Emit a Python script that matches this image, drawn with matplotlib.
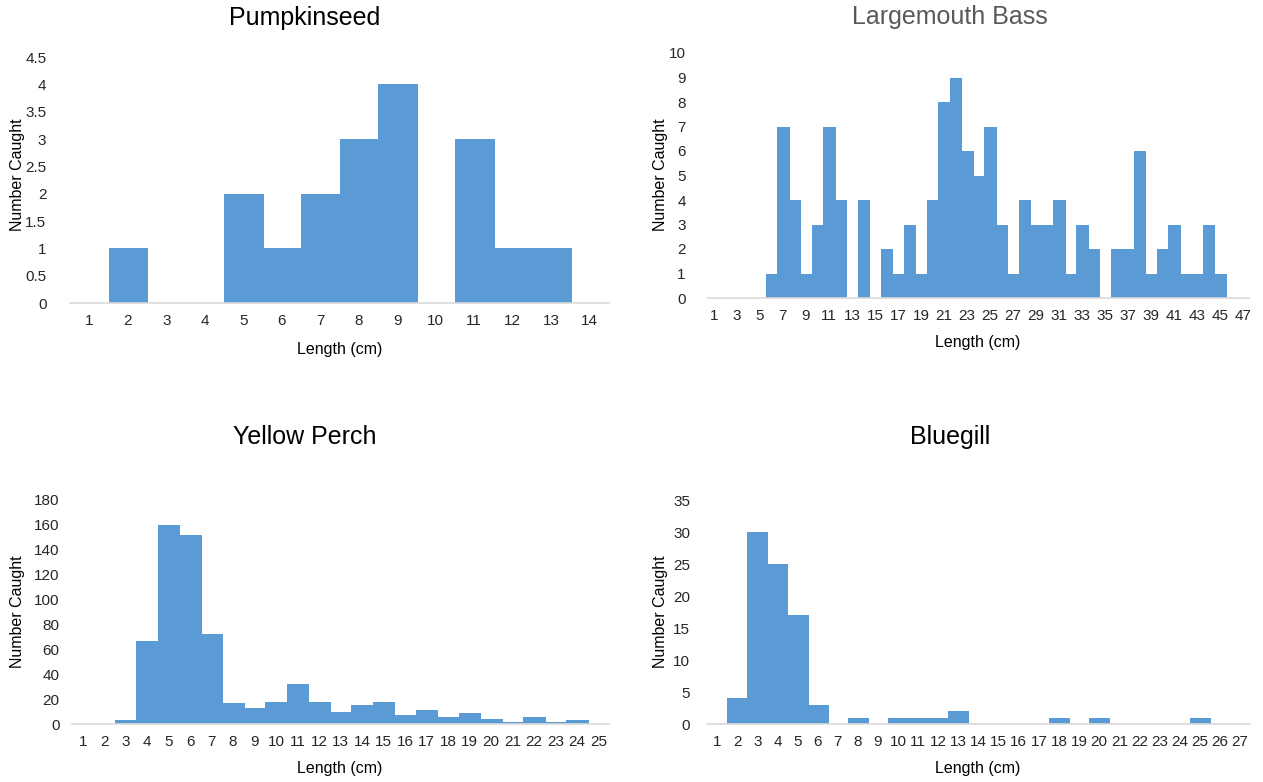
import numpy as np
import matplotlib
matplotlib.use("Agg")
import matplotlib.pyplot as plt

plt.rcParams['font.family'] = ['Liberation Sans', 'DejaVu Sans']

# counts per 1 cm length class
pumpkinseed = [0, 1, 0, 0, 2, 1, 2, 3, 4, 0, 3, 1, 1, 0]
largemouth = [0, 0, 0, 0, 0, 1, 7, 4, 1, 3, 7, 4, 0, 4, 0, 2, 1, 3, 1, 4,
              8, 9, 6, 5, 7, 3, 1, 4, 3, 3, 4, 1, 3, 2, 0, 2, 2, 6, 1, 2,
              3, 1, 1, 3, 1, 0, 0]
yellow_perch = [0, 0, 3, 67, 160, 152, 72, 17, 13, 18, 32, 18, 10, 15, 18,
                7, 11, 6, 9, 4, 2, 6, 2, 3, 0]
bluegill = [0, 4, 30, 25, 17, 3, 0, 1, 0, 1, 1, 1, 2, 0, 0, 0, 0, 1, 0, 1,
            0, 0, 0, 0, 1, 0, 0]

W, H = 1263, 782
BAR = '#5B9BD5'
GRID = '#D9D9D9'

fig = plt.figure(figsize=(W / 100, H / 100), dpi=100)


def panel(counts, box, ymax, ystep, title, title_xy, title_color, ylab_xy,
          xlab_xy, xstep=1, ypad=10):
    left, right, bottom, top = box
    ax = fig.add_axes([left / W, 1 - bottom / H, (right - left) / W,
                       (bottom - top) / H])
    x = np.arange(1, len(counts) + 1)
    ax.bar(x, counts, width=1.0, color=BAR, edgecolor=BAR, linewidth=0.4,
           antialiased=False)
    ax.set_xlim(0.5, len(counts) + 0.5)
    ax.set_ylim(0, ymax)
    ax.set_yticks(np.arange(0, ymax + ystep / 2, ystep))
    ax.yaxis.set_major_formatter(matplotlib.ticker.FuncFormatter(
        lambda v, p: f'{v:g}'))
    ax.set_xticks(x[::xstep])
    for s in ['top', 'right', 'left']:
        ax.spines[s].set_visible(False)
    ax.spines['bottom'].set_color(GRID)
    ax.spines['bottom'].set_linewidth(1.2)
    ax.tick_params(length=0, labelsize=11, colors='#262626', pad=8)
    ax.tick_params(axis='y', pad=ypad)
    fig.text(title_xy[0] / W, 1 - title_xy[1] / H, title, fontsize=18,
             color=title_color, ha='center', va='center')
    fig.text(ylab_xy[0] / W, 1 - ylab_xy[1] / H, 'Number Caught',
             fontsize=11.5, rotation=90, ha='center', va='center')
    fig.text(xlab_xy[0] / W, 1 - xlab_xy[1] / H, 'Length (cm)',
             fontsize=11.5, ha='center', va='center')
    return ax


panel(pumpkinseed, (70, 609, 303, 57), 4.5, 0.5, 'Pumpkinseed', (305, 18),
      'black', (18, 175), (340, 349), ypad=17)
panel(largemouth, (708, 1249, 298, 53), 10, 1, 'Largemouth Bass', (950, 17),
      '#595959', (661, 175), (978, 342), xstep=2, ypad=16)
panel(yellow_perch, (72, 609, 724, 500), 180, 20, 'Yellow Perch', (305, 437),
      'black', (18, 612), (340, 768), ypad=9)
panel(bluegill, (707, 1250, 724, 500), 35, 5, 'Bluegill', (950, 437),
      'black', (661, 612), (978, 768), ypad=12)

fig.savefig('out.png', dpi=100)
